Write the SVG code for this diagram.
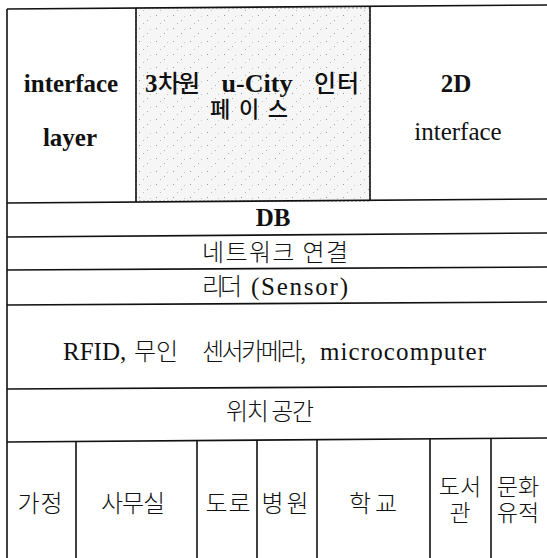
<svg xmlns="http://www.w3.org/2000/svg" width="547" height="558" viewBox="0 0 547 558">
<style>
.ln{stroke:#111;stroke-width:1.6;fill:none}
.t{font-family:'Liberation Serif','Noto Sans CJK KR',serif;font-size:25px;fill:#111;text-anchor:middle}
.k{font-family:'Noto Sans CJK KR',sans-serif;font-size:24px;font-weight:300;fill:#111;text-anchor:middle}
.k2{font-size:23px}
.s{text-anchor:start}
.b{font-weight:bold}
.m{font-weight:500}
</style>
<defs>
<pattern id="speckle" width="17" height="13" patternUnits="userSpaceOnUse">
<rect width="17" height="13" fill="#f6f6f6"/>
<rect x="3" y="2" width="1" height="1" fill="#999"/>
<rect x="11" y="7" width="1" height="1" fill="#aaa"/>
<rect x="7" y="10" width="1" height="1" fill="#bbb"/>
<rect x="14" y="3" width="1" height="1" fill="#c4c4c4"/>
</pattern>
</defs>
<rect width="547" height="558" fill="#fff"/>
<g id="cell-3d">
<rect x="136" y="8" width="234" height="193" fill="url(#speckle)" stroke="#999" stroke-width="1" stroke-dasharray="2 2"/>
<text class="t b s" x="145" y="92">3</text>
<text class="k m s" x="158" y="92" textLength="42" lengthAdjust="spacing">차원</text>
<text class="t b" x="257" y="92" style="font-size:26px">u-City</text>
<text class="k m s" x="314" y="92" textLength="45" lengthAdjust="spacing">인터</text>
<text class="k m" x="249" y="117" style="font-size:22px" textLength="78" lengthAdjust="spacing">페이스</text>
</g>
<g id="grid">
<line class="ln" x1="7" y1="9" x2="547" y2="5"/>
<line class="ln" x1="7" y1="203" x2="547" y2="199"/>
<line class="ln" x1="7" y1="237" x2="547" y2="233"/>
<line class="ln" x1="7" y1="270" x2="547" y2="267"/>
<line class="ln" x1="7" y1="305" x2="547" y2="302"/>
<line class="ln" x1="7" y1="389" x2="547" y2="386"/>
<line class="ln" x1="7" y1="442" x2="547" y2="438"/>
<line class="ln" x1="7" y1="9" x2="7" y2="558"/>
<line class="ln" x1="136" y1="8" x2="136" y2="202"/>
<line class="ln" x1="370" y1="7" x2="370" y2="200"/>
<line class="ln" x1="76" y1="441" x2="76" y2="558"/>
<line class="ln" x1="197" y1="440" x2="197" y2="558"/>
<line class="ln" x1="257" y1="440" x2="257" y2="558"/>
<line class="ln" x1="317" y1="440" x2="317" y2="558"/>
<line class="ln" x1="430" y1="439" x2="430" y2="558"/>
<line class="ln" x1="491" y1="438" x2="491" y2="558"/>
</g>
<g id="cell-interface-layer">
<text class="t b" x="71" y="92">interface</text>
<text class="t b" x="70" y="146">layer</text>
</g>
<g id="cell-2d">
<text class="t b" x="456" y="92">2D</text>
<text class="t" x="458" y="140">interface</text>
</g>
<g id="row-db"><text class="t b" x="273" y="226">DB</text></g>
<g id="row-network"><text class="k" x="275" y="261" textLength="146" lengthAdjust="spacing">네트워크 연결</text></g>
<g id="row-reader">
<text class="k s" x="202" y="295" textLength="40" lengthAdjust="spacing">리더</text>
<text class="t s" x="251" y="295" textLength="97" lengthAdjust="spacing">(Sensor)</text>
</g>
<g id="row-devices">
<text class="t s" x="63" y="360">RFID,</text>
<text class="k s" x="134" y="360" textLength="44" lengthAdjust="spacing">무인</text>
<text class="k s" x="202" y="360" textLength="104" lengthAdjust="spacing">센서카메라,</text>
<text class="t s" x="320" y="360" textLength="166" lengthAdjust="spacing">microcomputer</text>
</g>
<g id="row-location"><text class="k" x="270" y="420" textLength="88" lengthAdjust="spacing">위치 공간</text></g>
<g id="cell-home"><text class="k" x="40" y="512" textLength="45" lengthAdjust="spacing">가정</text></g>
<g id="cell-office"><text class="k" x="133" y="512" textLength="64" lengthAdjust="spacing">사무실</text></g>
<g id="cell-road"><text class="k" x="228" y="512" textLength="45" lengthAdjust="spacing">도로</text></g>
<g id="cell-hospital"><text class="k" x="285" y="512" textLength="47" lengthAdjust="spacing">병원</text></g>
<g id="cell-school"><text class="k" x="373" y="512" textLength="48" lengthAdjust="spacing">학교</text></g>
<g id="cell-library">
<text class="k k2" x="460" y="495">도서</text>
<text class="k k2" x="460" y="521">관</text>
</g>
<g id="cell-heritage">
<text class="k k2" x="518" y="495">문화</text>
<text class="k k2" x="518" y="521">유적</text>
</g>
</svg>
